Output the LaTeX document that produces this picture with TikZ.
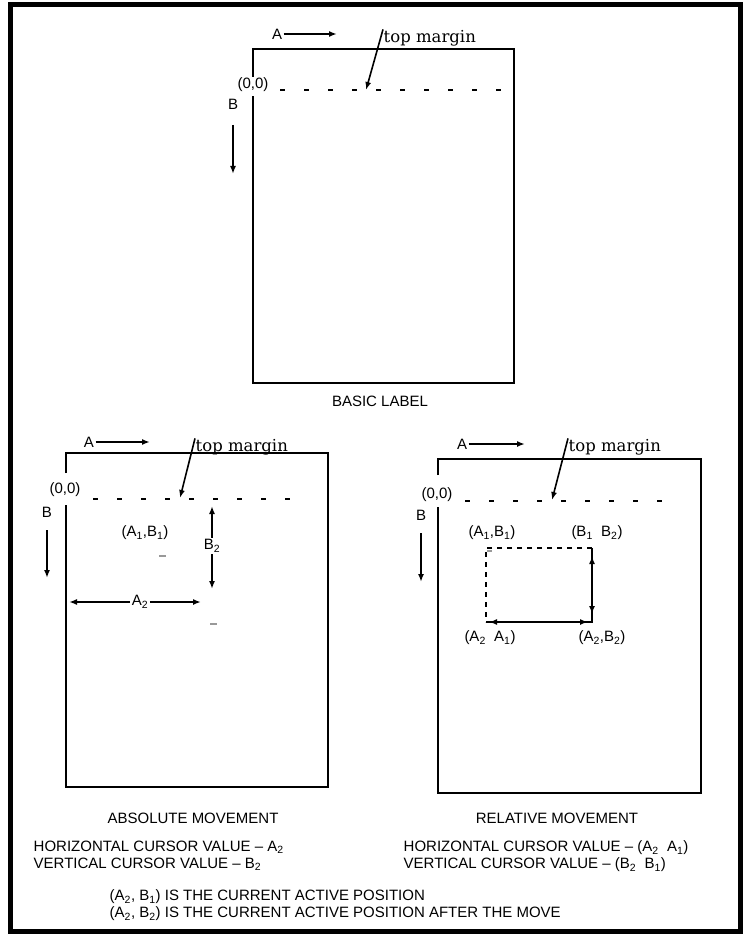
\documentclass[tikz,border=0pt]{standalone}
\usepackage{fontspec}
\setmainfont{Liberation Sans}
\newfontfamily\lblfont{Liberation Sans}
\newfontfamily\marginfont{DejaVu Serif}
\usetikzlibrary{arrows.meta, positioning}
\tikzset{
  every picture/.style={line width=1.4pt},
  panel/.style={draw, line width=1.8pt},
  arrow/.style={-{Latex[length=8pt,width=6pt]}, line width=1.6pt},
  margin/.style={draw, line width=1.4pt, dash pattern=on 5pt off 19pt},
  moved/.style={draw, line width=1.4pt, dash pattern=on 5pt off 5pt},
  lbl/.style={font=\fontsize{15}{16}\lblfont, inner sep=1pt},
  note/.style={font=\fontsize{15}{16}\lblfont, anchor=west, inner sep=0pt},
  topnote/.style={font=\fontsize{16.5}{18}\marginfont, anchor=west, inner sep=0pt},
  cursor/.style={fill=black!40, minimum width=7pt, minimum height=2.5pt, inner sep=0pt},
}
\newcommand{\sub}[1]{\textsubscript{#1}}

\begin{document}
\begin{tikzpicture}[x=1pt, y=-1pt]
  \useasboundingbox (0,0) rectangle (746,936);
  \draw[line width=5pt] (10,4.5) rectangle (740.5,931.5);

  % basic label
  \draw[panel] (253,77) -- (253,49) -- (514,49) -- (514,383) -- (253,383) -- (253,96);
  \draw[margin] (280,90) -- (503,90);
  \node[lbl] (orgT) at (253,85) {(0,0)};
  \node[lbl] (bT) at (233,104) {B};
  \coordinate (bTs) at (233,125);
  \coordinate (bTe) at (233,174);
  \draw[arrow] (bTs) -- (bTe);
  \node[lbl] (aT) at (277,34) {A};
  \coordinate (aTe) at (337,34);
  \draw[arrow] (aT) -- (aTe);
  \node[topnote] (tmT) at (383,38) {top margin};
  \coordinate (tmTe) at (366,90);
  \draw[arrow] (tmT.north west) -- (tmTe);
  \node[lbl] (capT) at (380,401) {BASIC LABEL};

  % absolute movement
  \draw[panel] (66,473) -- (66,453) -- (328,453) -- (328,787) -- (66,787) -- (66,505);
  \draw[margin] (93,499) -- (305,499);
  \node[lbl] (orgL) at (65,490) {(0,0)};
  \node[lbl] (bL) at (47,512) {B};
  \coordinate (bLs) at (47,530);
  \coordinate (bLe) at (47,578);
  \draw[arrow] (bLs) -- (bLe);
  \node[lbl] (aL) at (89,442) {A};
  \coordinate (aLe) at (150,442);
  \draw[arrow] (aL) -- (aLe);
  \node[topnote] (tmL) at (195,447) {top margin};
  \coordinate (tmLe) at (180,498);
  \draw[arrow] (tmL.north west) -- (tmLe);
  \node[lbl] (p11L) at (145,533) {(A\sub{1},B\sub{1})};
  \node[cursor] (curL1) at (162,556) {};
  \node[lbl] (b2L) at (212,546) {B\sub{2}};
  \coordinate (b2Lt) at (212,506);
  \coordinate (b2Lb) at (212,589);
  \draw[arrow] (b2L) -- (b2Lt);
  \draw[arrow] (b2L) -- (b2Lb);
  \node[lbl] (a2L) at (140,602) {A\sub{2}};
  \coordinate (a2Ll) at (69,602);
  \coordinate (a2Lr) at (201,602);
  \draw[arrow] (a2L) -- (a2Ll);
  \draw[arrow] (a2L) -- (a2Lr);
  \node[cursor] (curL2) at (213,624) {};
  \node[lbl] (capL) at (193,818) {ABSOLUTE MOVEMENT};
  \node[note] (horL) at (33,847) {HORIZONTAL CURSOR VALUE \textendash\ A\sub{2}};
  \node[note] (verL) at (33,864) {VERTICAL CURSOR VALUE \textendash\ B\sub{2}};

  % relative movement
  \draw[panel] (438,475) -- (438,459) -- (701,459) -- (701,793) -- (438,793) -- (438,507);
  \draw[margin] (465,501) -- (678,501);
  \node[lbl] (orgR) at (437,495) {(0,0)};
  \node[lbl] (bR) at (421,515) {B};
  \coordinate (bRs) at (421,533);
  \coordinate (bRe) at (421,582);
  \draw[arrow] (bRs) -- (bRe);
  \node[lbl] (aR) at (462,444) {A};
  \coordinate (aRe) at (525,444);
  \draw[arrow] (aR) -- (aRe);
  \node[topnote] (tmR) at (568,447) {top margin};
  \coordinate (tmRe) at (552,500);
  \draw[arrow] (tmR.north west) -- (tmRe);
  \node[lbl] (p11R) at (492,533) {(A\sub{1},B\sub{1})};
  \node[lbl] (p12R) at (597,533) {(B\sub{1}\ \ B\sub{2})};
  \coordinate (cTL) at (486,548);
  \coordinate (cTR) at (592,548);
  \coordinate (cBR) at (592,622);
  \coordinate (cBL) at (486,622);
  \draw[moved] (cTR) -- (cTL) -- (cBL);
  \draw (cBL) -- (cBR) -- (cTR);
  \draw[arrow, {Latex[length=8pt,width=6pt]}-{Latex[length=8pt,width=6pt]}, shorten <=3pt, shorten >=4pt] (cBL) -- (cBR);
  \draw[arrow, {Latex[length=8pt,width=6pt]}-{Latex[length=8pt,width=6pt]}, shorten <=8pt, shorten >=8pt] (cBR) -- (cTR);
  \node[cursor, minimum width=5pt] (curR) at (489,551) {};
  \node[lbl] (p21R) at (490,638) {(A\sub{2}\ \ A\sub{1})};
  \node[lbl] (p22R) at (602,638) {(A\sub{2},B\sub{2})};
  \node[lbl] (capR) at (557,818) {RELATIVE MOVEMENT};
  \node[note] (horR) at (403,848) {HORIZONTAL CURSOR VALUE \textendash\ (A\sub{2}\ \ A\sub{1})};
  \node[note] (verR) at (403,865) {VERTICAL CURSOR VALUE \textendash\ (B\sub{2}\ \ B\sub{1})};

  % active positions
  \node[note] (act1) at (109,897) {(A\sub{2}, B\sub{1}) IS THE CURRENT ACTIVE POSITION};
  \node[note] (act2) at (109,914) {(A\sub{2}, B\sub{2}) IS THE CURRENT ACTIVE POSITION AFTER THE MOVE};
\end{tikzpicture}
\end{document}
